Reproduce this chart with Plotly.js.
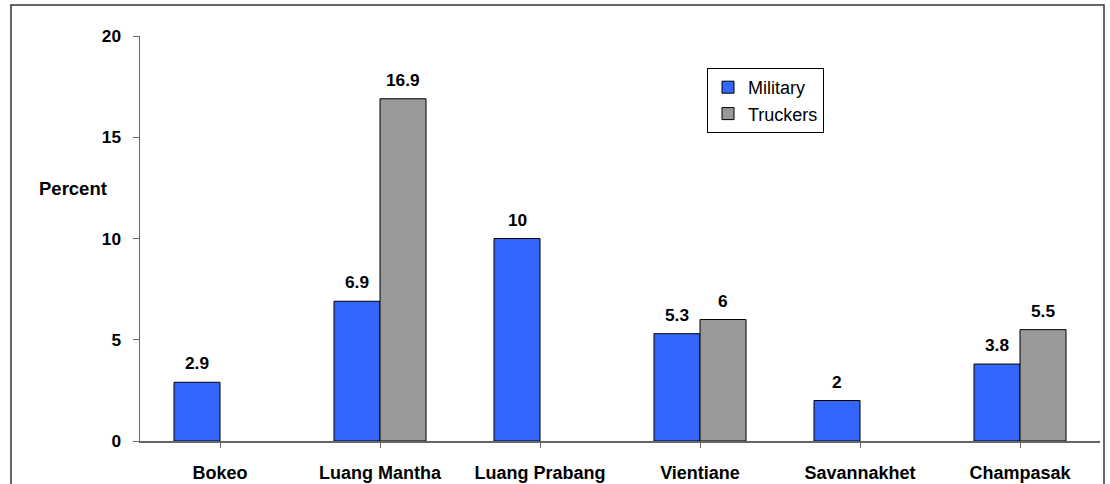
<!DOCTYPE html>
<html><head><meta charset="utf-8">
<script src="https://cdn.plot.ly/plotly-3.0.1.min.js"></script>
<style>html,body{margin:0;padding:0;background:#fff;}#chart{width:1110px;height:484px;}</style>
</head><body><div id="chart"></div>
<script>
const categories = ["Bokeo", "Luang Mantha", "Luang Prabang", "Vientiane", "Savannakhet", "Champasak"];
const military = [2.9, 6.9, 10, 5.3, 2, 3.8];
const truckers = [null, 16.9, null, 6, null, 5.5];
const yTicks = [0, 5, 10, 15, 20];

const barW = 0.2875;
const font = "Liberation Sans, Arial, sans-serif";
const idx = categories.map((c, i) => i);

const traces = [
  {type: "bar", name: "Military", x: idx, y: military, width: barW, offset: -barW,
   marker: {color: "#3366FF", line: {color: "#000", width: 1}}, hoverinfo: "y"},
  {type: "bar", name: "Truckers", x: idx, y: truckers, width: barW, offset: 0,
   marker: {color: "#999999", line: {color: "#000", width: 1}}, hoverinfo: "y"}
];

const lblFont = {family: font, size: 17.3, color: "#000", weight: "bold"};
const annotations = [];
military.forEach((v, i) => { if (v !== null) annotations.push({x: i - barW/2, y: v, xref: "x", yref: "y", text: String(v), showarrow: false, yanchor: "middle", yshift: 19, font: lblFont}); });
truckers.forEach((v, i) => { if (v !== null) annotations.push({x: i + barW/2, y: v, xref: "x", yref: "y", text: String(v), showarrow: false, yanchor: "middle", yshift: 19, font: lblFont}); });
annotations.push({xref: "paper", yref: "paper", x: (73 - 140) / 960, y: (441 - 188) / 405, text: "Percent", showarrow: false, xanchor: "center", yanchor: "middle", font: {family: font, size: 18.5, color: "#000", weight: "bold"}});

const layout = {
  width: 1110, height: 484,
  margin: {l: 140, r: 10, t: 36, b: 43, pad: 0},
  paper_bgcolor: "#fff", plot_bgcolor: "#fff",
  font: {family: font, color: "#000"},
  showlegend: true,
  legend: {x: (707 - 140) / 960, y: (441 - 68) / 405, xanchor: "left", yanchor: "top",
    bordercolor: "#000", borderwidth: 1, bgcolor: "#fff",
    font: {family: font, size: 18, color: "#000"}, traceorder: "normal", itemwidth: 30, tracegroupgap: 0},
  xaxis: {
    range: [-0.5, 5.5], tickmode: "array", tickvals: idx, ticktext: categories,
    showline: true, linecolor: "#666", linewidth: 1.5, ticks: "outside", ticklen: 5, tickcolor: "#666",
    tickson: "boundaries", showgrid: false, zeroline: false, ticklabelstandoff: 10,
    tickfont: {family: font, size: 18, color: "#000", weight: "bold"}, fixedrange: true
  },
  yaxis: {
    range: [0, 20], tickmode: "array", tickvals: yTicks, ticktext: yTicks.map(String),
    showline: true, linecolor: "#666", linewidth: 1.5, ticks: "outside", ticklen: 6, tickcolor: "#666",
    showgrid: false, zeroline: false, ticklabelstandoff: 8,
    tickfont: {family: font, size: 17.3, color: "#000", weight: "bold"}, fixedrange: true
  },
  barmode: "group",
  annotations: annotations,
  shapes: [{type: "rect", xref: "paper", yref: "paper",
    x0: (11 - 140) / 960, x1: (1104 - 140) / 960, y0: (441 - 495) / 405, y1: (441 - 5) / 405,
    line: {color: "#333", width: 1.5}, fillcolor: "rgba(0,0,0,0)", layer: "above"}]
};

Plotly.newPlot("chart", traces, layout, {displayModeBar: false, staticPlot: true});
</script></body></html>
